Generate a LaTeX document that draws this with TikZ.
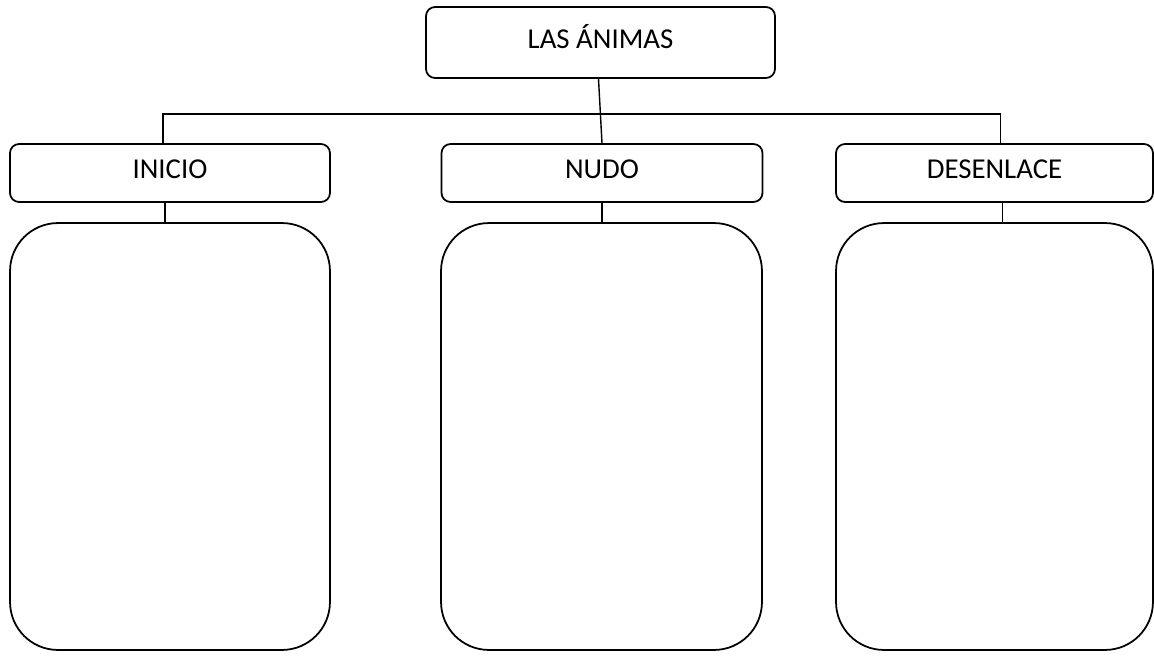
\documentclass[tikz,border=0pt]{standalone}
\usepackage{fontspec}
\setmainfont{Carlito}
\begin{document}
\begin{tikzpicture}[x=0.02cm,y=-0.02cm]
		\tikzset{caja/.style = {shape=rectangle,draw,line width=1pt,rounded corners=0.18cm,inner sep=0pt,minimum height=1.16cm,text height=0.644em,text depth=0pt,font=\fontsize{16.4}{20}\selectfont}}
		\tikzset{hoja/.style = {shape=rectangle,draw,line width=1pt,rounded corners=0.96cm,minimum height=8.54cm}}
		\tikzset{rama/.style = {draw,line width=0.8pt}}
		\useasboundingbox (0,0) rectangle (1154,656);
		\node[caja,minimum width=6.98cm,minimum height=1.42cm] (animas) at (600.5,42.5) {LAS ÁNIMAS};
		\node[caja,minimum width=6.4cm] (inicio) at (170,173) {INICIO};
		\node[caja,minimum width=6.42cm] (nudo) at (602,173) {NUDO};
		\node[caja,minimum width=6.34cm] (desenlace) at (994.5,173) {DESENLACE};
		\node[hoja,minimum width=6.4cm] (hojaA) at (170,436.5) {};
		\node[hoja,minimum width=6.42cm] (hojaB) at (601.5,436.5) {};
		\node[hoja,minimum width=6.34cm] (hojaC) at (994.5,436.5) {};
		\coordinate (cruce) at (600,114);
		\path[rama] ([xshift=-0.04cm]animas.south) -- (nudo.north);
		\path[rama] ([xshift=-0.14cm]inicio.north) |- (cruce) -| ([xshift=0.12cm]desenlace.north);
		\path[rama] ([xshift=-0.1cm]inicio.south) edge ([xshift=-0.1cm]hojaA.north);
		\path[rama] (nudo.south) edge (nudo.south |- hojaB.north);
		\path[rama] ([xshift=0.16cm]desenlace.south) edge ([xshift=0.16cm]hojaC.north);
	\end{tikzpicture}
\end{document}
